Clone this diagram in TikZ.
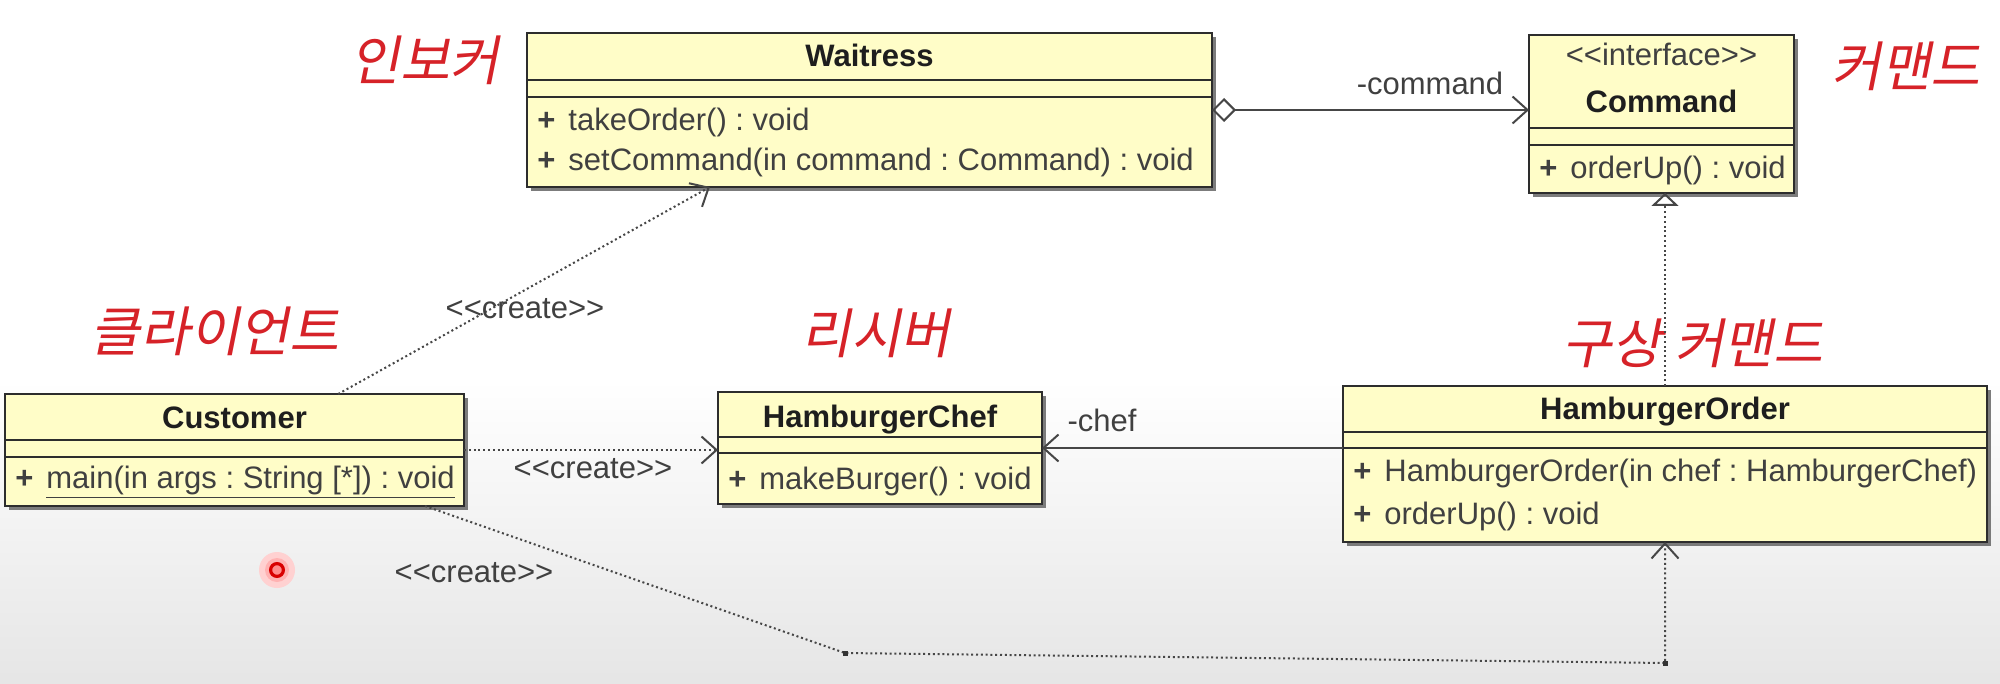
\documentclass[tikz,border=0pt]{standalone}
\usepackage{fontspec}
\setmainfont{Liberation Sans}
\newfontfamily\krfont[FakeSlant=0.2]{Noto Sans CJK KR}
\usetikzlibrary{arrows.meta,shadows,calc}
\definecolor{boxfill}{RGB}{255,253,200}
\definecolor{boxline}{RGB}{45,45,45}
\definecolor{linecol}{RGB}{70,70,70}
\definecolor{txtcol}{RGB}{30,30,30}
\definecolor{krred}{RGB}{214,34,40}
\tikzset{
  classbox/.style={draw=boxline, line width=1pt, fill=boxfill, inner sep=0pt, outer sep=0pt,
    drop shadow={shadow xshift=2.2pt, shadow yshift=-2.2pt, fill=black!60, opacity=0.85}},
  sepline/.style={draw=boxline, line width=1pt},
  titletext/.style={anchor=base, inner sep=0pt, text=txtcol, font=\fontsize{15.5}{18}\selectfont\bfseries},
  stereo/.style={anchor=base, inner sep=0pt, text=txtcol!85},
  methtext/.style={anchor=base west, inner sep=0pt, text=txtcol!85},
  lbl/.style={anchor=base, inner sep=0pt, text=txtcol!85},
  krlabel/.style={anchor=center, inner sep=0pt, text=krred, font=\krfont\fontsize{27}{30}\selectfont},
  assoc/.style={draw=linecol, line width=1pt, -{Straight Barb[length=7.5pt,width=13.5pt]}},
  dep/.style={draw=linecol, line width=1pt, dash pattern=on 1pt off 1.4pt, -{Straight Barb[length=7.5pt,width=13.5pt]}},
  aggr/.style={draw=linecol, line width=1pt, {Diamond[open,length=12pt,width=12pt]}-{Straight Barb[length=7.5pt,width=13.5pt]}},
  realize/.style={draw=linecol, line width=1pt, dash pattern=on 1pt off 1.4pt, -{Triangle[open,length=6.5pt,width=13.5pt]}},
  bendpt/.style={fill=black!80, inner sep=0pt, minimum size=2.5pt},
}
\newcommand{\plusm}{\makebox[15.5pt][l]{\textbf{+}}}
\frenchspacing
\begin{document}
\begin{tikzpicture}[x=0.5pt,y=-0.5pt,font=\fontsize{15.5}{18}\selectfont]
\useasboundingbox (0,0) rectangle (2000,684);
\fill[white] (0,0) rectangle (2000,684);
\shade[top color=white, bottom color=black!10] (0,380) rectangle (2000,684);

% red korean labels
\node[krlabel] (kInvoker) at (425,60) {인보커};
\node[krlabel] (kCommand) at (1906,66) {커맨드};
\node[krlabel] (kClient) at (215,331) {클라이언트};
\node[krlabel] (kReceiver) at (876,333) {리시버};
\node[krlabel] (kConcrete) at (1693,343) {구상 커맨드};

% Waitress
\node[classbox, minimum width=342.5pt, minimum height=77pt] (waitress) at (869.5,110) {};
\draw[sepline] (waitress.west |- 0,80) -- (waitress.east |- 0,80);
\draw[sepline] (waitress.west |- 0,97) -- (waitress.east |- 0,97);
\node[titletext] (waitressT) at (869.5,67) {Waitress};
\node[methtext] (waitressM1) at (537,131) {\plusm takeOrder() : void};
\node[methtext] (waitressM2) at (537,171) {\plusm setCommand(in command : Command) : void};

% Command
\node[classbox, minimum width=132.5pt, minimum height=79pt] (command) at (1661.5,114) {};
\draw[sepline] (command.west |- 0,128) -- (command.east |- 0,128);
\draw[sepline] (command.west |- 0,145) -- (command.east |- 0,145);
\node[stereo] (commandS) at (1661.5,66) {<{}<interface>{}>};
\node[titletext] (commandT) at (1661.5,113) {Command};
\node[methtext] (commandM1) at (1539,179) {\plusm orderUp() : void};

% Customer
\node[classbox, minimum width=229.5pt, minimum height=56pt] (customer) at (234.5,450) {};
\draw[sepline] (customer.west |- 0,440) -- (customer.east |- 0,440);
\draw[sepline] (customer.west |- 0,457) -- (customer.east |- 0,457);
\node[titletext] (customerT) at (234.5,428) {Customer};
\node[methtext] (customerM1) at (15,488) {\plusm \underline{main(in args : String [*]) : void}};

% HamburgerChef
\node[classbox, minimum width=162pt, minimum height=56pt] (chef) at (880,448) {};
\draw[sepline] (chef.west |- 0,437) -- (chef.east |- 0,437);
\draw[sepline] (chef.west |- 0,453) -- (chef.east |- 0,453);
\node[titletext] (chefT) at (880,427) {HamburgerChef};
\node[methtext] (chefM1) at (728,489) {\plusm makeBurger() : void};

% HamburgerOrder
\node[classbox, minimum width=322pt, minimum height=78pt] (order) at (1665,464) {};
\draw[sepline] (order.west |- 0,432) -- (order.east |- 0,432);
\draw[sepline] (order.west |- 0,448) -- (order.east |- 0,448);
\node[titletext] (orderT) at (1665,419) {HamburgerOrder};
\node[methtext] (orderM1) at (1353,481) {\plusm HamburgerOrder(in chef : HamburgerChef)};
\node[methtext] (orderM2) at (1353,524) {\plusm orderUp() : void};

% connectors
\draw[aggr] (waitress.east) -- (command.west |- waitress.east);
\node[lbl] (lblCommand) at (1430,95) {-command};

\draw[assoc] (order.west |- chef.east) -- (chef.east);
\node[lbl] (lblChef) at (1102,431) {-chef};

\draw[dep] (customer.east) -- (chef.west |- customer.east);
\node[lbl] (lblCreate2) at (593,478) {<{}<create>{}>};

\draw[dep] ($(customer.north west)!0.726!(customer.north east)$) -- ($(waitress.south west)!0.267!(waitress.south east)$);
\node[lbl] (lblCreate1) at (525,318) {<{}<create>{}>};

\coordinate (bend1) at (845,653);
\coordinate (bend2) at ($(order.south)+(0,121)$);
\draw[dep] ($(customer.south west)!0.915!(customer.south east)$) -- (bend1) -- (bend2) -- (order.south);
\node[bendpt] (bp1) at (bend1) {};
\node[bendpt] (bp2) at (bend2) {};
\node[lbl] (lblCreate3) at (474,582) {<{}<create>{}>};

\draw[realize] (order.north) -- (order.north |- command.south);

% pointer highlight
\fill[red!18] (277,570) circle (9pt);
\fill[red!30] (277,570) circle (6pt);
\draw[red!85!black, line width=1.6pt, fill=red!45] (277,570) circle (3.2pt);
\end{tikzpicture}
\end{document}
